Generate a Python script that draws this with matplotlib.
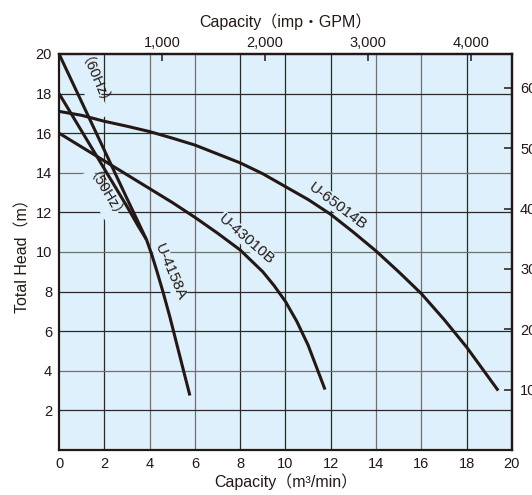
import numpy as np
import matplotlib
matplotlib.use("Agg")
import matplotlib.pyplot as plt

plt.rcParams['font.family'] = ['Liberation Sans Narrow', 'Liberation Sans', 'Noto Sans CJK JP', 'DejaVu Sans']

# capacity (m3/min) vs total head (m)
u4158a_60_q = [0, 1, 2, 3, 3.5, 3.87, 4.1, 4.33, 4.6, 4.9, 5.2, 5.5, 5.78]
u4158a_60_h = [20, 17.57, 15.14, 12.7, 11.5, 10.6, 9.85, 9.0, 7.95, 6.7, 5.35, 4.0, 2.75]
u4158a_50_q = [0, 1, 2, 3, 3.5, 3.85]
u4158a_50_h = [18, 16.1, 14.2, 12.3, 11.3, 10.65]
u43010b_q = [0, 1, 2, 3, 4, 5, 6, 7, 8, 9, 9.5, 10, 10.5, 11, 11.4, 11.75]
u43010b_h = [16, 15.3, 14.6, 13.9, 13.2, 12.5, 11.75, 10.95, 10.1, 9.0, 8.3, 7.5, 6.5, 5.3, 4.1, 3.05]
u65014b_q = [0, 1, 2, 3, 4, 5, 6, 7, 8, 9, 10, 11, 12, 13, 14, 15, 16, 17, 18, 18.7, 19.4]
u65014b_h = [17.1, 16.9, 16.6, 16.35, 16.08, 15.75, 15.4, 14.95, 14.5, 13.95, 13.3, 12.65,
             11.9, 11.0, 10.05, 9.0, 7.9, 6.6, 5.2, 4.1, 3.0]

x_ticks = list(range(0, 21, 2))
y_ticks = list(range(2, 21, 2))
gpm_ticks = [1000, 2000, 3000, 4000]
gpm_labels = ['1,000', '2,000', '3,000', '4,000']
ft_ticks = [10, 20, 30, 40, 50, 60]

GPM_PER_M3MIN = 219.969
M_PER_FT = 0.3048

ink = '#231815'
bg = '#def0fb'

fig = plt.figure(figsize=(5.32, 4.95), dpi=100)
ax = fig.add_axes([0.111, 0.091, 0.851, 0.800])
ax.set_facecolor(bg)
ax.set_xlim(0, 20)
ax.set_ylim(0, 20)

# grid lines (scan shows some darker, some lighter)
dark_x = [2, 8, 10, 12, 18]
for x in x_ticks[1:-1]:
    c = '#2a2a2a' if x in dark_x else '#707070'
    ax.axvline(x, color=c, lw=0.9, zorder=1)
dark_y = [2, 6, 8, 12, 16, 18]
for y in y_ticks[:-1]:
    c = '#2a2a2a' if y in dark_y else '#707070'
    ax.axhline(y, color=c, lw=0.9, zorder=1)

for q, h in [(u4158a_60_q, u4158a_60_h), (u4158a_50_q, u4158a_50_h),
             (u43010b_q, u43010b_h), (u65014b_q, u65014b_h)]:
    ax.plot(q, h, color=ink, lw=2.2, zorder=3, solid_capstyle='butt', solid_joinstyle='round')

box = dict(facecolor=bg, edgecolor='none', pad=0.5)
ax.text(1.37, 18.3, '（60Hz）', rotation=-67, ha='center', va='center', fontsize=10.5, color=ink, bbox=box, zorder=2)
ax.text(1.9, 12.6, '（50Hz）', rotation=-59, ha='center', va='center', fontsize=10.5, color=ink, bbox=box, zorder=2)
ax.text(4.9, 9.0, 'U-4158A', rotation=-67, ha='center', va='center', fontsize=11, color=ink, bbox=box, zorder=2)
ax.text(8.29, 10.64, 'U-43010B', rotation=-41, ha='center', va='center', fontsize=11, color=ink, bbox=box, zorder=2)
ax.text(12.33, 12.32, 'U-65014B', rotation=-37, ha='center', va='center', fontsize=11, color=ink, bbox=box, zorder=2)

ax.set_xticks(x_ticks)
ax.set_yticks(y_ticks)
ax.tick_params(axis='both', length=0, pad=5, labelsize=10.5, colors=ink)
ax.set_xlabel('Capacity（m³/min）', fontsize=11.5, color=ink, labelpad=2)
ax.set_ylabel('Total Head（m）', fontsize=11.5, color=ink, labelpad=4)
for s in ax.spines.values():
    s.set_linewidth(1.6)
    s.set_color(ink)

top = ax.secondary_xaxis('top', functions=(lambda q: q * GPM_PER_M3MIN, lambda g: g / GPM_PER_M3MIN))
top.set_xticks(gpm_ticks)
top.set_xticklabels(gpm_labels)
top.tick_params(direction='in', length=5, width=1.1, pad=3, labelsize=10.5, colors=ink)
top.set_xlabel('Capacity（imp・GPM）', fontsize=11.5, color=ink, labelpad=6)
top.spines['top'].set_linewidth(1.6)

right = ax.secondary_yaxis('right', functions=(lambda m: m / M_PER_FT, lambda f: f * M_PER_FT))
right.set_yticks(ft_ticks)
right.tick_params(direction='in', length=6, width=1.1, pad=6, labelsize=10.5, colors=ink)
right.spines['right'].set_linewidth(1.6)

fig.savefig('out.png', dpi=100)
